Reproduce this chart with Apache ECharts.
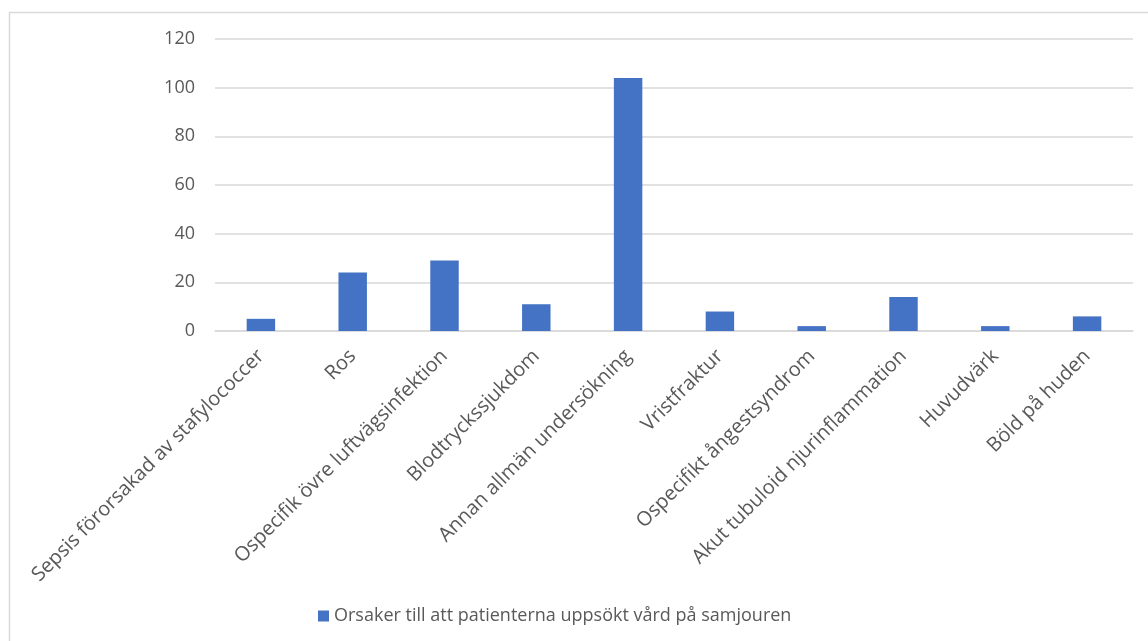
<!DOCTYPE html>
<html><head><meta charset="utf-8">
<script src="https://cdn.jsdelivr.net/npm/echarts@6/dist/echarts.min.js"></script>
<style>html,body{margin:0;padding:0;background:#fff}#c{width:1148px;height:641px}</style>
</head><body><div id="c"></div>
<script>
const categories = ["Sepsis förorsakad av stafylococcer","Ros","Ospecifik övre luftvägsinfektion","Blodtryckssjukdom","Annan allmän undersökning","Vristfraktur","Ospecifikt ångestsyndrom","Akut tubuloid njurinflammation","Huvudvärk","Böld på huden"];
const values = [5,24,29,11,104,8,2,14,2,6];
const seriesName = "Orsaker till att patienterna uppsökt vård på samjouren";
const yTicks = {min:0,max:120,interval:20};
const font = "'Open Sans', 'Noto Sans', sans-serif";
const chart = echarts.init(document.getElementById('c'), null, {renderer:'canvas'});
chart.setOption({
  animation:false,
  graphic:[{type:'rect',shape:{x:9.5,y:12.5,width:1200,height:700},style:{fill:'none',stroke:'#d9d9d9',lineWidth:1.5},z:-1}],
  grid:{left:215,right:15,top:39,bottom:310,containLabel:false},
  legend:{bottom:11,left:313,itemWidth:11,itemHeight:11,itemGap:7,icon:'rect',
    textStyle:{color:'#595959',fontSize:18,fontFamily:font},data:[seriesName]},
  xAxis:{type:'category',data:categories,
    axisLine:{lineStyle:{color:'#d9d9d9',width:1.5}},axisTick:{show:false},
    axisLabel:{rotate:45,interval:0,color:'#595959',fontSize:20,fontFamily:font,margin:22}},
  yAxis:{type:'value',min:yTicks.min,max:yTicks.max,interval:yTicks.interval,
    axisLine:{show:false},axisTick:{show:false},
    splitLine:{lineStyle:{color:'#d9d9d9',width:1.5}},
    axisLabel:{color:'#595959',fontSize:18,fontFamily:font,margin:20}},
  series:[{name:seriesName,type:'bar',data:values,barWidth:'31%',
    itemStyle:{color:'#4472c4'}}]
});
</script></body></html>
